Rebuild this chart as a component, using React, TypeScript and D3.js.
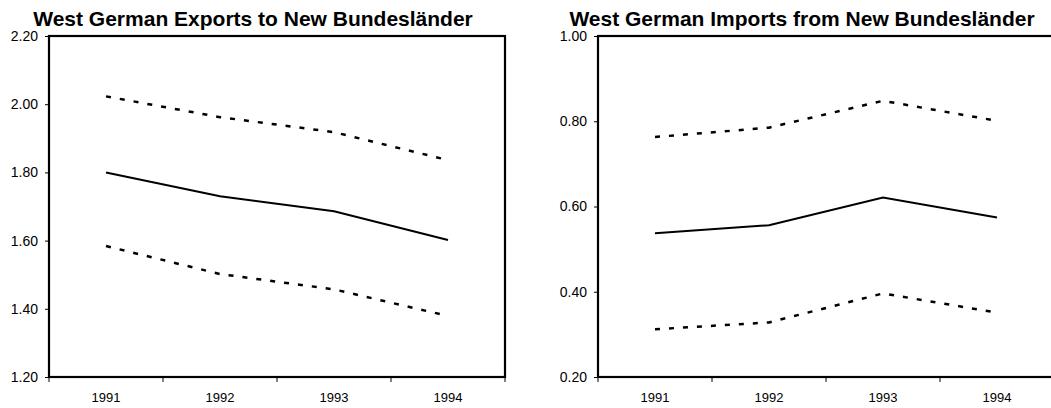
import React, { useRef, useEffect } from "react";
import * as d3 from "d3";

const years = ["1991", "1992", "1993", "1994"];

const exportsMid = [1.8, 1.73, 1.686, 1.602];
const exportsUpper = [2.023, 1.962, 1.918, 1.836];
const exportsLower = [1.584, 1.502, 1.457, 1.379];
const exportTicks = [1.2, 1.4, 1.6, 1.8, 2.0, 2.2];

const importsMid = [0.537, 0.556, 0.621, 0.574];
const importsUpper = [0.763, 0.785, 0.848, 0.801];
const importsLower = [0.312, 0.328, 0.396, 0.351];
const importTicks = [0.2, 0.4, 0.6, 0.8, 1.0];

const panels = [
  {
    title: "West German Exports to New Bundesländer",
    mid: exportsMid,
    upper: exportsUpper,
    lower: exportsLower,
    ticks: exportTicks,
    left: 49,
  },
  {
    title: "West German Imports from New Bundesländer",
    mid: importsMid,
    upper: importsUpper,
    lower: importsLower,
    ticks: importTicks,
    left: 598,
  },
];

const W = 1051;
const H = 408;
const FONT = "Arial, 'Liberation Sans', sans-serif";

const App: React.FC = () => {
  const svgRef = useRef<SVGSVGElement | null>(null);

  useEffect(() => {
    const svg = d3.select(svgRef.current);
    svg.selectAll("*").remove();

    const top = 36;
    const bottom = 377;
    const plotW = 456;

    panels.forEach((p) => {
      const g = svg.append("g");
      const x = d3.scaleBand().domain(years).range([p.left, p.left + plotW]);
      const y = d3
        .scaleLinear()
        .domain([p.ticks[0], p.ticks[p.ticks.length - 1]])
        .range([bottom, top]);

      // titulo
      g.append("text")
        .attr("x", p.left + plotW / 2 - 24)
        .attr("y", 26)
        .attr("text-anchor", "middle")
        .attr("font-family", FONT)
        .attr("font-weight", "bold")
        .attr("font-size", "21px")
        .text(p.title);

      // marco
      g.append("rect")
        .attr("x", p.left)
        .attr("y", top)
        .attr("width", plotW)
        .attr("height", bottom - top)
        .attr("fill", "none")
        .attr("stroke", "#000")
        .attr("stroke-width", 2.2);

      // eje y
      const yAxis = g
        .append("g")
        .attr("transform", `translate(${p.left},0)`)
        .call(
          d3
            .axisLeft(y)
            .tickValues(p.ticks)
            .tickFormat(d3.format(".2f"))
            .tickSize(4)
            .tickPadding(7)
        );
      yAxis.select(".domain").remove();
      yAxis.selectAll("line").attr("stroke", "#000").attr("stroke-width", 1);
      yAxis
        .selectAll("text")
        .attr("font-family", FONT)
        .attr("font-size", "14px")
        .attr("fill", "#000");

      // eje x: marcas en los limites de cada banda
      const bounds = years.map((d) => x(d)!).concat([p.left + plotW]);
      g.selectAll(".xtick")
        .data(bounds)
        .join("line")
        .attr("x1", (d) => d)
        .attr("x2", (d) => d)
        .attr("y1", bottom)
        .attr("y2", bottom + 5)
        .attr("stroke", "#000")
        .attr("stroke-width", 1);
      g.selectAll(".xlabel")
        .data(years)
        .join("text")
        .attr("x", (d) => x(d)! + x.bandwidth() / 2)
        .attr("y", 402)
        .attr("text-anchor", "middle")
        .attr("font-family", FONT)
        .attr("font-size", "13px")
        .text((d) => d);

      const line = d3
        .line<number>()
        .x((_, i) => x(years[i])! + x.bandwidth() / 2)
        .y((d) => y(d));

      g.append("path")
        .attr("d", line(p.mid))
        .attr("fill", "none")
        .attr("stroke", "#000")
        .attr("stroke-width", 2);

      [p.upper, p.lower].forEach((s) => {
        g.append("path")
          .attr("d", line(s))
          .attr("fill", "none")
          .attr("stroke", "#000")
          .attr("stroke-width", 2.5)
          .attr("stroke-dasharray", "5,9");
      });
    });
  }, []);

  return (
    <svg
      ref={svgRef}
      width={W}
      height={H}
      style={{ position: "absolute", left: 0, top: 0, background: "#fff" }}
    ></svg>
  );
};

export default App;
